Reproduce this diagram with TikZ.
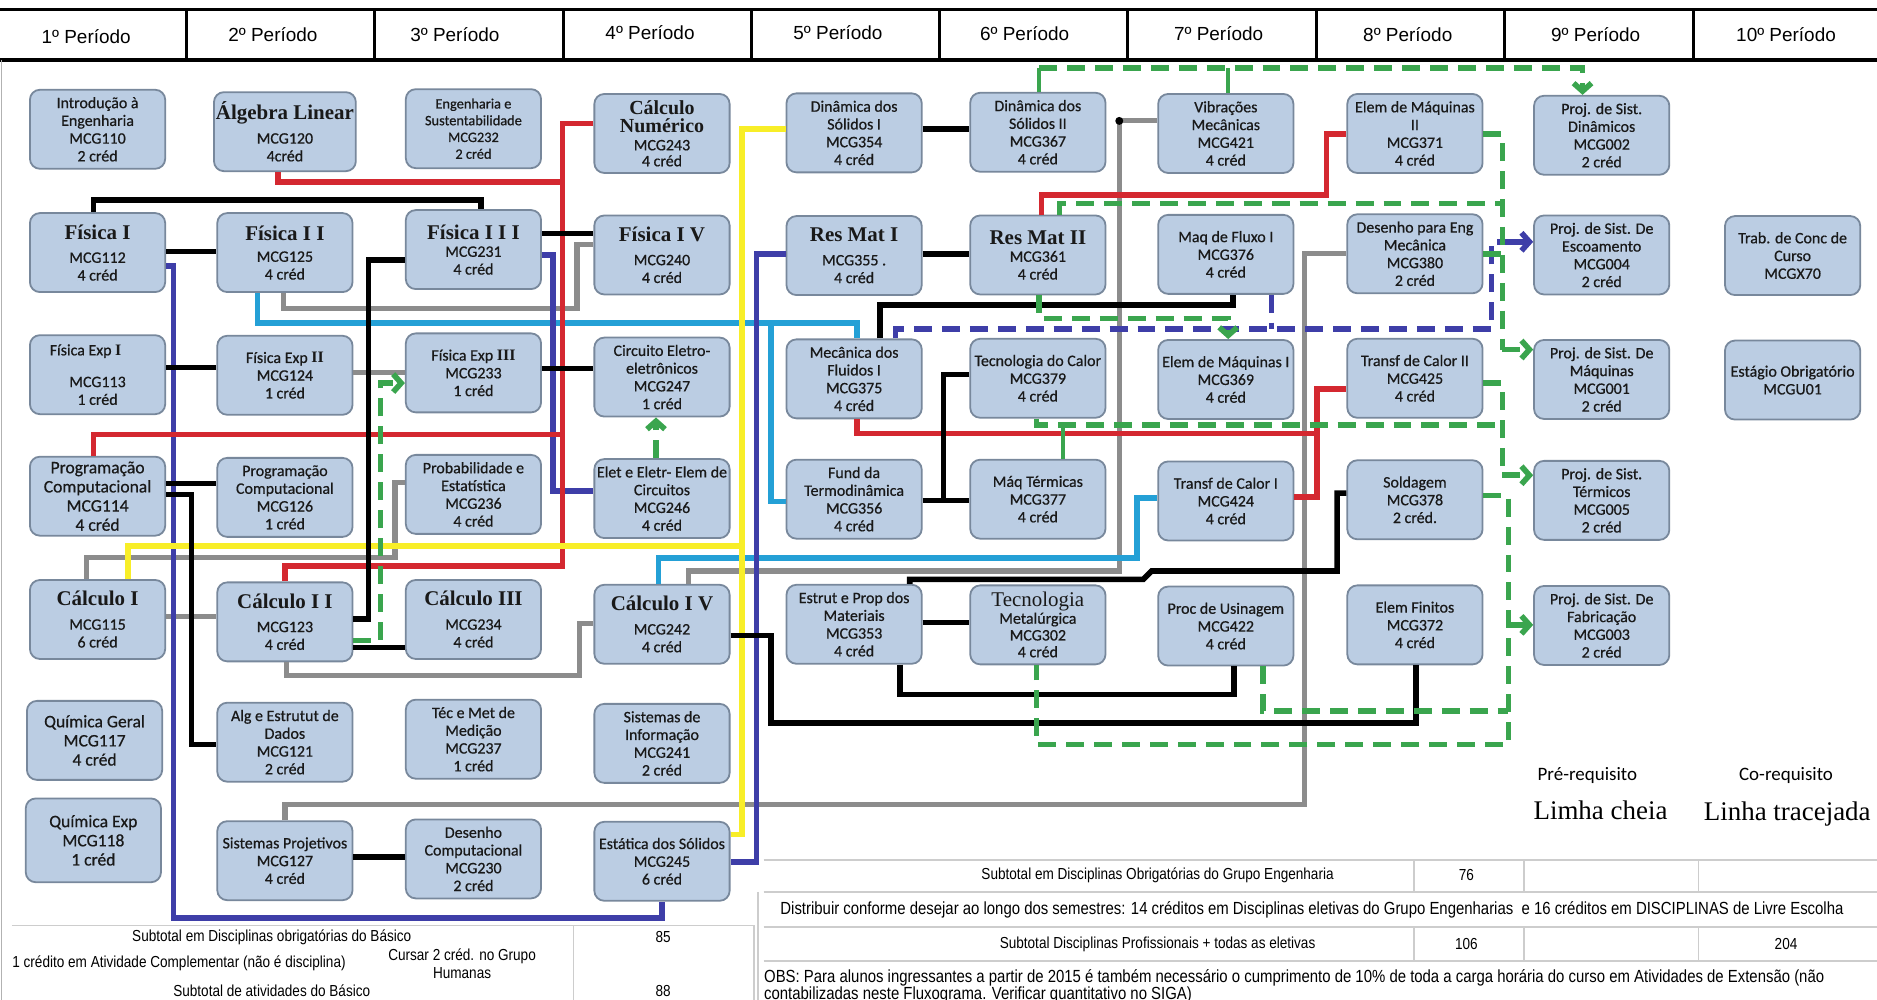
\documentclass[tikz,border=0pt]{standalone}
\usepackage{fontspec}
\setmainfont{Carlito}
\newfontfamily\boxF[FakeBold=0.6]{Carlito}
\newfontfamily\serifF{Liberation Serif}
\newfontfamily\arialF{Liberation Sans}
\newfontfamily\narrowF[FakeStretch=0.85]{Liberation Sans}
\usetikzlibrary{arrows.meta,calc}
\definecolor{boxfill}{RGB}{187,205,227}
\definecolor{boxline}{RGB}{120,136,156}
\definecolor{cred}{RGB}{212,40,48}
\definecolor{cyellow}{RGB}{248,238,40}
\definecolor{ccyan}{RGB}{36,160,214}
\definecolor{cblue}{RGB}{62,62,168}
\definecolor{cgray}{RGB}{140,140,140}
\definecolor{cgreen}{RGB}{58,165,78}
\definecolor{tline}{RGB}{205,205,205}
\newcommand\bfont{\boxF\fontsize{8}{8.9}\selectfont}
\newcommand\sfont{\boxF\fontsize{7.2}{8.4}\selectfont}
\newcommand\lfont{\boxF\fontsize{8.8}{9.6}\selectfont}
\newcommand\ttl[1]{{\serifF\bfseries\fontsize{10.5}{11}\selectfont #1}}
\newcommand\ttls[1]{{\serifF\bfseries\fontsize{10}{8.4}\selectfont #1}}
\newcommand\ttlr[1]{{\serifF\fontsize{10.5}{10}\selectfont #1}}
\newcommand\mkbox[5][]{\node[box,#1] (#2) at (#3,#4) {#5};}
\begin{document}
\begin{tikzpicture}[x=0.6pt,y=-0.6pt,
  box/.style={draw=boxline, fill=boxfill, line width=0.9pt, rounded corners=5pt,
    minimum width=67.8pt, minimum height=39.6pt, align=center, inner sep=1pt,
    font=\bfont, text=black!90},
  hdr/.style={font=\arialF\fontsize{9.5}{10}\selectfont},
  tbl/.style={font=\narrowF\fontsize{8}{9.2}\selectfont, inner sep=0pt},
  tblw/.style={font=\narrowF\fontsize{8.8}{10}\selectfont, inner sep=0pt},
  pk/.style={line width=2.8pt, black},
  gr/.style={line width=2.6pt, cgray},
  rd/.style={line width=2.8pt, cred},
  yl/.style={line width=2.8pt, cyellow},
  cy/.style={line width=2.8pt, ccyan},
  bl/.style={line width=2.8pt, cblue},
  bld/.style={line width=2.8pt, cblue, dash pattern=on 9pt off 5pt},
  gd/.style={line width=2.8pt, cgreen, dash pattern=on 9pt off 5pt},
  gs/.style={line width=2.2pt, cgreen},
  coarrow/.style={-{Straight Barb[length=4pt,width=9pt]}}
]
\fill[white] (0,0) rectangle (1568,835);
\useasboundingbox (0,0) rectangle (1568,835);

% header
\draw[line width=1.6pt] (0,8) -- (1568,8);
\draw[line width=2pt] (0,50) -- (1568,50);
\foreach \xx in {156,313,471,628,785,942,1100,1257,1415}
  \draw[line width=1.4pt] (\xx,8) -- (\xx,50);
\draw[line width=0.6pt, gray!60] (1,50) -- (1,835);
\node[hdr] (h1) at (72,31) {1º Período};
\node[hdr] (h2) at (228,29) {2º Período};
\node[hdr] (h3) at (380,29) {3º Período};
\node[hdr] (h4) at (543,27) {4º Período};
\node[hdr] (h5) at (700,27) {5º Período};
\node[hdr] (h6) at (856,28) {6º Período};
\node[hdr] (h7) at (1018,28) {7º Período};
\node[hdr] (h8) at (1176,29) {8º Período};
\node[hdr] (h9) at (1333,29) {9º Período};
\node[hdr] (h10) at (1492,29) {10º Período};

% column 1
\mkbox{intro}{81.5}{108}{Introdução à\\Engenharia\\MCG110\\2 créd}
\mkbox{fis1}{81.5}{211}{\ttl{Física I}\\[3pt]MCG112\\4 créd}
\mkbox{fexp1}{81.5}{313}{Física Exp {\serifF\bfseries I}\hspace*{12pt}\\[7pt]MCG113\\1 créd}
\mkbox[font=\lfont]{prog1}{81.5}{414.5}{Programação\\Computacional\\MCG114\\4 créd}
\mkbox{calc1}{81.5}{517.5}{\ttl{Cálculo I}\\[3pt]MCG115\\6 créd}
\mkbox[font=\lfont]{qgeral}{79}{618.5}{Química Geral\\MCG117\\4 créd}
\mkbox[font=\lfont, minimum height=42pt]{qexp}{78}{702}{Química Exp\\MCG118\\1 créd}
% column 2
\mkbox{alg}{238}{110}{\ttl{Álgebra Linear}\\[3pt]MCG120\\4créd}
\mkbox{fis2}{238}{211}{\ttl{Física I I}\\[2pt]MCG125\\4 créd}
\mkbox{fexp2}{238}{313.5}{Física Exp {\serifF\bfseries II}\\MCG124\\1 créd}
\mkbox{prog2}{238}{415.5}{Programação\\Computacional\\MCG126\\1 créd}
\mkbox{calc2}{238}{519.5}{\ttl{Cálculo I I}\\[3pt]MCG123\\4 créd}
\mkbox{aed}{238}{620}{Alg e Estrutut de\\Dados\\MCG121\\2 créd}
\mkbox{sisproj}{238}{719}{Sistemas Projetivos\\MCG127\\4 créd}
% column 3
\mkbox[font=\sfont]{engsust}{395.5}{107.5}{Engenharia e\\Sustentabilidade\\MCG232\\2 créd}
\mkbox{fis3}{395.5}{208.5}{\ttl{Física I I I}\\MCG231\\4 créd}
\mkbox{fexp3}{395.5}{311.5}{Física Exp {\serifF\bfseries III}\\MCG233\\1 créd}
\mkbox{prob}{395.5}{413}{Probabilidade e\\Estatística\\MCG236\\4 créd}
\mkbox{calc3}{395.5}{517.5}{\ttl{Cálculo III}\\[3pt]MCG234\\4 créd}
\mkbox{tecmed}{395.5}{617.5}{Téc e Met de\\Medição\\MCG237\\1 créd}
\mkbox{descomp}{395.5}{717.5}{Desenho\\Computacional\\MCG230\\2 créd}
% column 4
\mkbox[font=\boxF\fontsize{8}{8}\selectfont]{calcnum}{553}{111.5}{\ttls{Cálculo}\\[1pt]\ttls{Numérico}\\[1pt]MCG243\\4 créd}
\mkbox{fis4}{553}{213}{\ttl{Física I V}\\[3pt]MCG240\\4 créd}
\mkbox{circ}{553}{315}{Circuito Eletro-\\eletrônicos\\MCG247\\1 créd}
\mkbox{elet}{553}{416.5}{Elet e Eletr- Elem de\\Circuitos\\MCG246\\4 créd}
\mkbox{calc4}{553}{521.5}{\ttl{Cálculo I V}\\[3pt]MCG242\\4 créd}
\mkbox{sisinfo}{553}{621}{Sistemas de\\Informação\\MCG241\\2 créd}
\mkbox{estat}{553}{719.5}{Estática dos Sólidos\\MCG245\\6 créd}
% column 5
\mkbox{din1}{713.5}{111}{Dinâmica dos\\Sólidos I\\MCG354\\4 créd}
\mkbox{resmat1}{713.5}{213.5}{\ttl{Res Mat I}\\[3pt]MCG355 .\\4 créd}
\mkbox{mecflu}{713.5}{316.5}{Mecânica dos\\Fluidos I\\MCG375\\4 créd}
\mkbox{termo}{713.5}{417}{Fund da\\Termodinâmica\\MCG356\\4 créd}
\mkbox{estrut}{713.5}{521.5}{Estrut e Prop dos\\Materiais\\MCG353\\4 créd}
% column 6
\mkbox{din2}{867}{110.5}{Dinâmica dos\\Sólidos II\\MCG367\\4 créd}
\mkbox{resmat2}{867}{213}{\ttl{Res Mat II}\\MCG361\\4 créd}
\mkbox{tcalor}{867}{316}{Tecnologia do Calor\\MCG379\\4 créd}
\mkbox{maqterm}{867}{417}{Máq Térmicas\\MCG377\\4 créd}
\mkbox[font=\boxF\fontsize{8}{8.4}\selectfont]{tecmet}{867}{522}{\ttlr{Tecnologia}\\Metalúrgica\\MCG302\\4 créd}
% column 7
\mkbox{vib}{1024}{111.5}{Vibrações\\Mecânicas\\MCG421\\4 créd}
\mkbox{maqflu}{1024}{212.5}{Maq de Fluxo I\\MCG376\\4 créd}
\mkbox{elem1}{1024}{317}{Elem de Máquinas I\\MCG369\\4 créd}
\mkbox{tcal1}{1024}{418.5}{Transf de Calor I\\MCG424\\4 créd}
\mkbox{usin}{1024}{523}{Proc de Usinagem\\MCG422\\4 créd}
% column 8
\mkbox{elem2}{1182}{111.5}{Elem de Máquinas\\II\\MCG371\\4 créd}
\mkbox{deseng}{1182}{212}{Desenho para Eng\\Mecânica\\MCG380\\2 créd}
\mkbox{tcal2}{1182}{316}{Transf de Calor II\\MCG425\\4 créd}
\mkbox{sold}{1182}{417.5}{Soldagem\\MCG378\\2 créd.}
\mkbox{efin}{1182}{522}{Elem Finitos\\MCG372\\4 créd}
% column 9
\mkbox{pdin}{1338}{113}{Proj. de Sist.\\Dinâmicos\\MCG002\\2 créd}
\mkbox{pesc}{1338}{213}{Proj. de Sist. De\\Escoamento\\MCG004\\2 créd}
\mkbox{pmaq}{1338}{317}{Proj. de Sist. De\\Máquinas\\MCG001\\2 créd}
\mkbox{pterm}{1338}{418}{Proj. de Sist.\\Térmicos\\MCG005\\2 créd}
\mkbox{pfab}{1338}{522.5}{Proj. de Sist. De\\Fabricação\\MCG003\\2 créd}
% column 10
\mkbox{tcc}{1497.5}{213.5}{Trab. de Conc de\\Curso\\MCGX70}
\mkbox{estagio}{1497.5}{317.5}{Estágio Obrigatório\\MCGU01}

% ---------- connectors ----------
% gray
\draw[gr] (prob.west |- 0,403) -- (330,403) -- (330,466) -- (72,466) -- (calc1.north -| 72,0);
\draw[gr] (calc4.north -| 575,0) -- (575,477) -- (935,477) -- (935,101) -- (vib.west |- 0,101);
\draw[gr] (fis2.south -| 237,0) -- (237,258) -- (482,258) -- (482,204) -- (fis4.west |- 0,204);
\draw[gr] (fexp2.east |- 0,311) -- (fexp3.west |- 0,311);
\draw[gr] (calc1.east |- 0,515) -- (calc2.west |- 0,515);
\draw[gr] (calc2.south -| 239,0) -- (239,564) -- (484,564) -- (484,521) -- (calc4.west |- 0,521);
\draw[gr] (sisproj.north -| 238,0) -- (238,672) -- (1090,672) -- (1090,212) -- (deseng.west |- 0,212);
% cyan
\draw[cy] (fis2.south -| 215,0) -- (215,270) -- (716,270) -- (mecflu.north -| 716,0);
\draw[cy] (644,270) -- (644,419) -- (termo.west |- 0,419);
\draw[cy] (calc4.north -| 550,0) -- (550,466) -- (950,466) -- (950,416) -- (tcal1.west |- 0,416);
% blue solid
\draw[bl] (fis1.east |- 0,222) -- (145,222) -- (145,767) -- (553,767) -- (estat.south -| 553,0);
\draw[bl] (fis3.east |- 0,213) -- (462,213) -- (462,410) -- (elet.west |- 0,410);
\draw[bl] (resmat1.west |- 0,212) -- (632,212) -- (632,720) -- (estat.east |- 0,720);
% red
\draw[rd] (alg.south -| 232,0) -- (232,152) -- (470,152);
\draw[rd] (calcnum.west |- 0,103) -- (470,103) -- (470,473) -- (238,473) -- (calc2.north -| 238,0);
\draw[rd] (prog1.north -| 78,0) -- (78,363) -- (470,363);
\draw[rd] (resmat2.north -| 870,0) -- (870,163) -- (1108,163) -- (1108,112) -- (elem2.west |- 0,112);
\draw[rd] (mecflu.south -| 716,0) -- (716,362) -- (1100,362);
\draw[rd] (tcal1.east |- 0,415) -- (1100,415) -- (1100,325) -- (tcal2.west |- 0,325);
% yellow
\draw[yl] (calc1.north -| 107,0) -- (107,456) -- (620,456);
\draw[yl] (din1.west |- 0,108) -- (620,108) -- (620,697) -- (estat.east |- 0,697);
% black
\draw[pk] (fis1.north -| 78,0) -- (78,167) -- (402,167) -- (fis3.north -| 402,0);
\draw[pk] (fis1.east |- 0,210) -- (fis2.west |- 0,210);
\draw[pk] (fexp1.east |- 0,307) -- (fexp2.west |- 0,307);
\draw[pk] (prog1.east |- 0,404) -- (prog2.west |- 0,404);
\draw[pk] (prog1.east |- 0,413) -- (160,413) -- (160,622) -- (aed.west |- 0,622);
\draw[pk] (calc2.east |- 0,517) -- (308,517) -- (308,217) -- (fis3.west |- 0,217);
\draw[pk] (calc2.east |- 0,541) -- (calc3.west |- 0,541);
\draw[pk] (fis3.east |- 0,195) -- (fis4.west |- 0,195);
\draw[pk] (fexp3.east |- 0,308) -- (circ.west |- 0,308);
\draw[pk] (sisproj.east |- 0,716) -- (descomp.west |- 0,716);
\draw[pk] (din1.east |- 0,108) -- (din2.west |- 0,108);
\draw[pk] (resmat1.east |- 0,212) -- (resmat2.west |- 0,212);
\draw[pk] (mecflu.north -| 735,0) -- (735,255) -- (1030,255) -- (maqflu.south -| 1030,0);
\draw[pk] (termo.east |- 0,418) -- (maqterm.west |- 0,418);
\draw[pk] (tcalor.west |- 0,313) -- (788,313) -- (788,418);
\draw[pk] (estrut.east |- 0,520) -- (tecmet.west |- 0,520);
\draw[pk] (estrut.north -| 760,0) -- (760,484) -- (955,484) -- (962,477) -- (1117,477) -- (1117,412) -- (sold.west |- 0,412);
\draw[pk] (estrut.south -| 752,0) -- (752,580) -- (1031,580) -- (usin.south -| 1031,0);
\draw[pk] (calc4.east |- 0,531) -- (644,531) -- (644,604) -- (1183,604) -- (efin.south -| 1183,0);
\fill (935,101) circle (2pt);
% blue dashed (co-requisite)
\draw[bld] (mecflu.north -| 748,0) -- (748,275) -- (1246,275) -- (1246,202) -- (1262,202);
\draw[bl, coarrow] (1262,202) -- (pesc.west |- 0,202);
\draw[bld] (maqflu.south -| 1062,0) -- (1062,275);
% green co-requisites
\draw[gs] (din2.north -| 868,0) -- (868,57);
\draw[gs] (vib.north -| 1026,0) -- (1026,57);
\draw[gd, coarrow] (868,57) -- (1322,57) -- (pdin.north -| 1322,0);
\draw[gd] (resmat2.north -| 885,0) -- (885,170) -- (1255,170);
\draw[gd] (elem2.east |- 0,112) -- (1255,112) -- (1255,292);
\draw[gd, coarrow] (1255,292) -- (pmaq.west |- 0,292);
\draw[gd] (deseng.east |- 0,212) -- (1255,212);
\draw[gd, coarrow] (resmat2.south -| 868,0) -- (868,266) -- (1026,266) -- (elem1.north -| 1026,0);
\draw[gd] (tcalor.south -| 866,0) -- (866,355) -- (1255,355);
\draw[gs] (maqterm.north -| 888,0) -- (888,355);
\draw[gd] (tcal2.east |- 0,320) -- (1255,320) -- (1255,397);
\draw[gd, coarrow] (1255,397) -- (pterm.west |- 0,397);
\draw[gd] (sold.east |- 0,414) -- (1260,414) -- (1260,622) -- (866,622) -- (tecmet.south -| 866,0);
\draw[gd] (usin.south -| 1055,0) -- (1055,594) -- (1260,594);
\draw[gd, coarrow] (1260,522) -- (pfab.west |- 0,522);
\draw[gd, coarrow] (calc2.east |- 0,535) -- (318,535) -- (318,320) -- (fexp3.west |- 0,320);
\draw[gd, coarrow] (elet.north -| 548,0) -- (circ.south -| 548,0);

% legend
\node[font=\fontsize{9.5}{10}\selectfont] (lg1) at (1326,648) {Pré-requisito};
\node[font=\serifF\fontsize{13.5}{14}\selectfont] (lg2) at (1337,677) {Limha cheia};
\node[font=\fontsize{9.5}{10}\selectfont] (lg3) at (1492,648) {Co-requisito};
\node[font=\serifF\fontsize{13.5}{14}\selectfont] (lg4) at (1493,680) {Linha tracejada};

% tables
\draw[tline, line width=0.8pt] (10,773) -- (630,773);
\draw[tline, line width=0.8pt] (630,773) -- (630,835);
\draw[tline, line width=0.8pt] (479,773) -- (479,835);
\foreach \yy in {718,745,774,803} \draw[tline, line width=1pt] (638,\yy) -- (1568,\yy);
\draw[tline, line width=0.8pt] (633,745) -- (633,835);
\foreach \xx in {1181,1273,1419} {
  \draw[tline, line width=0.8pt] (\xx,718) -- (\xx,745);
  \draw[tline, line width=0.8pt] (\xx,774) -- (\xx,803);
}
\node[tbl] (t1) at (227,783) {Subtotal em Disciplinas obrigatórias do Básico};
\node[tbl] (t1v) at (554,783) {85};
\node[tbl, anchor=west] (t2) at (10,805) {1 crédito em Atividade Complementar (não é disciplina)};
\node[tbl, align=center] (t3) at (386,805) {Cursar 2 créd. no Grupo\\Humanas};
\node[tbl] (t4) at (227,828) {Subtotal de atividades do Básico};
\node[tbl] (t4v) at (554,828) {88};
\node[tbl] (r1) at (967,731) {Subtotal em Disciplinas Obrigatórias do Grupo Engenharia};
\node[tbl] (r1v) at (1225,731) {76};
\node[tblw] (r2) at (1096,760) {Distribuir conforme desejar ao longo dos semestres: 14 créditos em Disciplinas eletivas do Grupo Engenharias \ e 16 créditos em DISCIPLINAS de Livre Escolha};
\node[tbl] (r3) at (967,789) {Subtotal Disciplinas Profissionais + todas as eletivas};
\node[tbl] (r3v) at (1225,789) {106};
\node[tbl] (r3w) at (1492,789) {204};
\node[tblw, anchor=west] (obs1) at (638,817) {OBS: Para alunos ingressantes a partir de 2015 é também necessário o cumprimento de 10\% de toda a carga horária do curso em Atividades de Extensão (não};
\node[tblw, anchor=west] (obs2) at (638,831) {contabilizadas neste Fluxograma. Verificar quantitativo no SIGA)};
\end{tikzpicture}
\end{document}
